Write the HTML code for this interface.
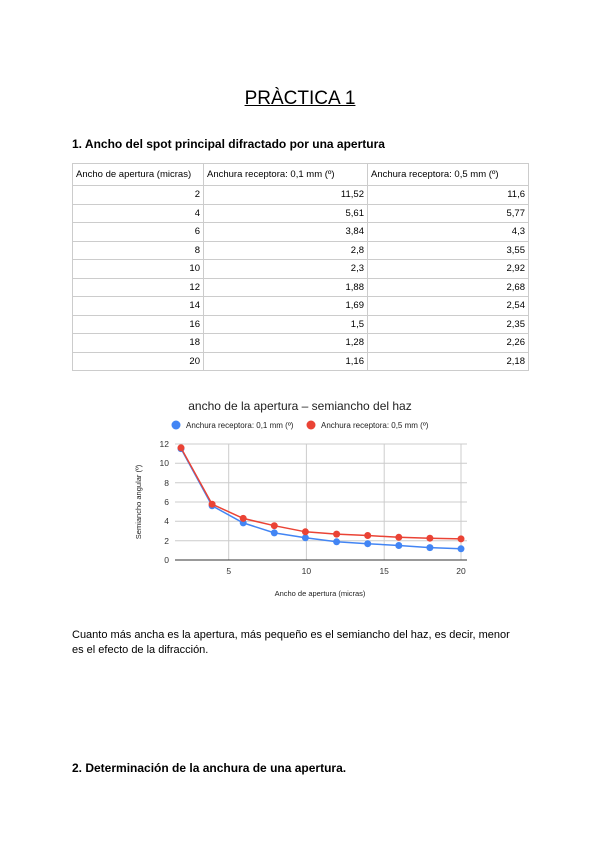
<!DOCTYPE html>
<html><head><meta charset="utf-8"><style>
body{margin:0;background:#fff;font-family:"Liberation Sans",sans-serif;color:#000}
.p{position:relative;width:600px;height:848px;overflow:hidden}
.t{position:absolute;white-space:nowrap}
table{position:absolute;left:72px;top:163px;border-collapse:collapse;font-size:9.5px}
td{border:1px solid #ccc;padding:0 3px;height:17.5px}
tr:first-child td{height:21px;text-align:left}
td{text-align:right}
</style></head><body><div class="p">
<div class="t" style="left:0;width:600px;text-align:center;top:88px;font-size:19px;text-decoration:underline">PRÀCTICA 1</div>
<div class="t" style="left:72px;top:137px;font-size:12px;font-weight:bold">1. Ancho del spot principal difractado por una apertura</div>
<table>
<tr><td style="width:124px">Ancho de apertura (micras)</td><td style="width:157px">Anchura receptora: 0,1 mm (º)</td><td style="width:154px">Anchura receptora: 0,5 mm (º)</td></tr>
<tr><td>2</td><td>11,52</td><td>11,6</td></tr>
<tr><td>4</td><td>5,61</td><td>5,77</td></tr>
<tr><td>6</td><td>3,84</td><td>4,3</td></tr>
<tr><td>8</td><td>2,8</td><td>3,55</td></tr>
<tr><td>10</td><td>2,3</td><td>2,92</td></tr>
<tr><td>12</td><td>1,88</td><td>2,68</td></tr>
<tr><td>14</td><td>1,69</td><td>2,54</td></tr>
<tr><td>16</td><td>1,5</td><td>2,35</td></tr>
<tr><td>18</td><td>1,28</td><td>2,26</td></tr>
<tr><td>20</td><td>1,16</td><td>2,18</td></tr>
</table>
<svg class="t" style="left:0;top:0" width="600" height="848" font-family="Liberation Sans,sans-serif">
<text x="300" y="410" font-size="12" text-anchor="middle" fill="#222">ancho de la apertura – semiancho del haz</text>
<circle cx="176" cy="425" r="4.5" fill="#4285f4"/><text x="186" y="428" font-size="8" fill="#222">Anchura receptora: 0,1 mm (º)</text>
<circle cx="311" cy="425" r="4.5" fill="#ea4335"/><text x="321" y="428" font-size="8" fill="#222">Anchura receptora: 0,5 mm (º)</text>
<g stroke="#ccc" stroke-width="1">
<line x1="175" x2="467" y1="444" y2="444"/><line x1="175" x2="467" y1="463.3" y2="463.3"/><line x1="175" x2="467" y1="482.7" y2="482.7"/><line x1="175" x2="467" y1="502" y2="502"/><line x1="175" x2="467" y1="521.3" y2="521.3"/><line x1="175" x2="467" y1="540.7" y2="540.7"/>
<line x1="228.7" x2="228.7" y1="444" y2="560"/><line x1="306.4" x2="306.4" y1="444" y2="560"/><line x1="384.2" x2="384.2" y1="444" y2="560"/><line x1="461" x2="461" y1="444" y2="560"/>
</g>
<line x1="175" x2="467" y1="560" y2="560" stroke="#333"/>
<g font-size="8.5" fill="#333" text-anchor="end">
<text x="169" y="447">12</text><text x="169" y="466">10</text><text x="169" y="486">8</text><text x="169" y="505">6</text><text x="169" y="524">4</text><text x="169" y="544">2</text><text x="169" y="563">0</text></g>
<g font-size="8.5" fill="#333" text-anchor="middle">
<text x="228.7" y="574">5</text><text x="306.4" y="574">10</text><text x="384.2" y="574">15</text><text x="461" y="574">20</text></g>
<text x="320" y="596" font-size="7.5" text-anchor="middle" fill="#222">Ancho de apertura (micras)</text>
<text transform="translate(141,502) rotate(-90)" font-size="7.5" text-anchor="middle" fill="#222">Semiancho angular (º)</text>
<polyline fill="none" stroke="#4285f4" stroke-width="1.5" points="181,448.6 212.1,505.8 243.2,522.9 274.3,532.9 305.4,537.8 336.6,541.8 367.7,543.7 398.8,545.5 429.9,547.6 461,548.8"/>
<g fill="#4285f4"><circle cx="181" cy="448.6" r="3.5"/><circle cx="212.1" cy="505.8" r="3.5"/><circle cx="243.2" cy="522.9" r="3.5"/><circle cx="274.3" cy="532.9" r="3.5"/><circle cx="305.4" cy="537.8" r="3.5"/><circle cx="336.6" cy="541.8" r="3.5"/><circle cx="367.7" cy="543.7" r="3.5"/><circle cx="398.8" cy="545.5" r="3.5"/><circle cx="429.9" cy="547.6" r="3.5"/><circle cx="461" cy="548.8" r="3.5"/></g>
<polyline fill="none" stroke="#ea4335" stroke-width="1.5" points="181,447.8 212.1,504.2 243.2,518.4 274.3,525.7 305.4,531.8 336.6,534.1 367.7,535.5 398.8,537.3 429.9,538.2 461,538.9"/>
<g fill="#ea4335"><circle cx="181" cy="447.8" r="3.5"/><circle cx="212.1" cy="504.2" r="3.5"/><circle cx="243.2" cy="518.4" r="3.5"/><circle cx="274.3" cy="525.7" r="3.5"/><circle cx="305.4" cy="531.8" r="3.5"/><circle cx="336.6" cy="534.1" r="3.5"/><circle cx="367.7" cy="535.5" r="3.5"/><circle cx="398.8" cy="537.3" r="3.5"/><circle cx="429.9" cy="538.2" r="3.5"/><circle cx="461" cy="538.9" r="3.5"/></g>
</svg>
<div class="t" style="left:72px;top:628px;font-size:11px;line-height:15px">Cuanto más ancha es la apertura, más pequeño es el semiancho del haz, es decir, menor<br>es el efecto de la difracción.</div>
<div class="t" style="left:72px;top:761px;font-size:12px;font-weight:bold">2. Determinación de la anchura de una apertura.</div>
</div></body></html>
